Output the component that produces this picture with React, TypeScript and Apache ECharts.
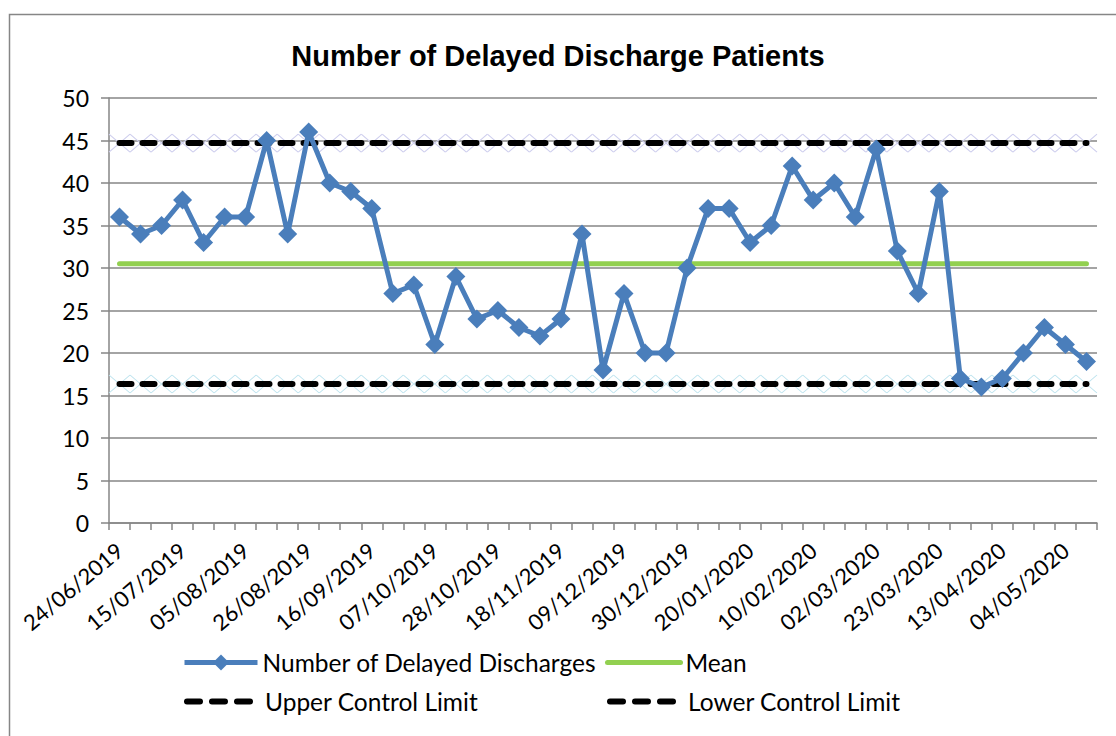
import React, { useEffect, useRef } from "react";
import * as echarts from "echarts";

const categories = [
  "24/06/2019", "01/07/2019", "08/07/2019", "15/07/2019", "22/07/2019", "29/07/2019",
  "05/08/2019", "12/08/2019", "19/08/2019", "26/08/2019", "02/09/2019", "09/09/2019",
  "16/09/2019", "23/09/2019", "30/09/2019", "07/10/2019", "14/10/2019", "21/10/2019",
  "28/10/2019", "04/11/2019", "11/11/2019", "18/11/2019", "25/11/2019", "02/12/2019",
  "09/12/2019", "16/12/2019", "23/12/2019", "30/12/2019", "06/01/2020", "13/01/2020",
  "20/01/2020", "27/01/2020", "03/02/2020", "10/02/2020", "17/02/2020", "24/02/2020",
  "02/03/2020", "09/03/2020", "16/03/2020", "23/03/2020", "30/03/2020", "06/04/2020",
  "13/04/2020", "20/04/2020", "27/04/2020", "04/05/2020", "11/05/2020",
];

const delayedDischarges = [
  36, 34, 35, 38, 33, 36, 36, 45, 34, 46, 40, 39, 37, 27, 28, 21, 29, 24, 25, 23, 22, 24,
  34, 18, 27, 20, 20, 30, 37, 37, 33, 35, 42, 38, 40, 36, 44, 32, 27, 39, 17, 16, 17, 20,
  23, 21, 19,
];

const meanValue = 30.5;
const upperLimitValue = 44.7;
const lowerLimitValue = 16.35;

const yTicks = { min: 0, max: 50, interval: 5 };

const meanSeries = categories.map(() => meanValue);
const uclSeries = categories.map(() => upperLimitValue);
const lclSeries = categories.map(() => lowerLimitValue);

const FONT = "Lato, 'Noto Sans', sans-serif";
const GRAY = "#868686";
const BLUE = "#4a7ebb";
const GREEN = "#92d050";

export default function App() {
  const ref = useRef<HTMLDivElement>(null);

  useEffect(() => {
    if (!ref.current) return;
    const chart = echarts.init(ref.current, null, { renderer: "svg" });
    const crossSymbol = "path://M0,0L21,18M21,0L0,18";
    const legendText = { fontFamily: FONT, fontSize: 24.5, color: "#000" };
    const dash = [12, 11];
    const legendDash = [13, 12];
    const legendBase = {
      padding: 0,
      itemWidth: 73,
      itemHeight: 20,
      textStyle: legendText,
    };
    chart.setOption({
      animation: false,
      backgroundColor: "#fff",
      title: {
        text: "Number of Delayed Discharge Patients",
        left: "center",
        top: 36,
        textStyle: {
          fontFamily: "'Liberation Sans', Arial, sans-serif",
          fontWeight: "bold",
          fontSize: 29,
          color: "#000",
        },
      },
      graphic: [
        {
          type: "rect",
          shape: { x: 9.5, y: 14.5, width: 1300, height: 900 },
          style: { fill: "none", stroke: GRAY, lineWidth: 1.5 },
          silent: true,
          z: -1,
        },
      ],
      legend: [
        {
          ...legendBase,
          data: ["Number of Delayed Discharges"],
          left: 182,
          top: 650,
          lineStyle: { width: 5 },
        },
        {
          ...legendBase,
          data: ["Mean"],
          left: 605,
          top: 650,
          itemStyle: { opacity: 0 },
          lineStyle: { width: 5, cap: "round" },
        },
        {
          ...legendBase,
          data: ["Upper Control Limit"],
          left: 184,
          top: 689,
          itemStyle: { opacity: 0 },
          lineStyle: { width: 6, type: legendDash, cap: "round" },
        },
        {
          ...legendBase,
          data: ["Lower Control Limit"],
          left: 607,
          top: 689,
          itemStyle: { opacity: 0 },
          lineStyle: { width: 6, type: legendDash, cap: "round" },
        },
      ],
      grid: { left: 109, right: 19, top: 98, bottom: 213, containLabel: false },
      xAxis: {
        type: "category",
        data: categories,
        boundaryGap: true,
        axisLine: { show: true, lineStyle: { color: GRAY, width: 1.5 } },
        axisTick: { show: true, interval: 0, length: 7, lineStyle: { color: GRAY, width: 1.5 } },
        axisLabel: {
          interval: 2,
          rotate: 40,
          margin: 24,
          fontFamily: FONT,
          fontSize: 22,
          color: "#000",
        },
        splitLine: { show: false },
      },
      yAxis: {
        type: "value",
        min: yTicks.min,
        max: yTicks.max,
        interval: yTicks.interval,
        axisLine: { show: true, lineStyle: { color: GRAY, width: 1.5 } },
        axisTick: { show: true, length: 8, lineStyle: { color: GRAY, width: 1.5 } },
        axisLabel: { fontFamily: FONT, fontSize: 23, color: "#000", margin: 20 },
        splitLine: { show: true, lineStyle: { color: GRAY, width: 1.5 } },
      },
      series: [
        {
          name: "UCL markers",
          type: "line",
          data: uclSeries,
          symbol: crossSymbol,
          symbolSize: [21, 18],
          showSymbol: true,
          showAllSymbol: true,
          lineStyle: { width: 0, opacity: 0 },
          itemStyle: { color: "rgba(0,0,0,0)", borderColor: "#cfcfee", borderWidth: 1 },
          silent: true,
          z: 1,
        },
        {
          name: "LCL markers",
          type: "line",
          data: lclSeries,
          symbol: crossSymbol,
          symbolSize: [21, 18],
          showSymbol: true,
          showAllSymbol: true,
          lineStyle: { width: 0, opacity: 0 },
          itemStyle: { color: "rgba(0,0,0,0)", borderColor: "#bde3ee", borderWidth: 1 },
          silent: true,
          z: 1,
        },
        {
          name: "Upper Control Limit",
          type: "line",
          data: uclSeries,
          symbol: "none",
          lineStyle: { color: "#000", width: 6, type: dash, cap: "round" },
          itemStyle: { color: "#000" },
          z: 2,
        },
        {
          name: "Lower Control Limit",
          type: "line",
          data: lclSeries,
          symbol: "none",
          lineStyle: { color: "#000", width: 6, type: dash, cap: "round" },
          itemStyle: { color: "#000" },
          z: 2,
        },
        {
          name: "Mean",
          type: "line",
          data: meanSeries,
          symbol: "none",
          lineStyle: { color: GREEN, width: 5, cap: "round" },
          itemStyle: { color: GREEN },
          z: 3,
        },
        {
          name: "Number of Delayed Discharges",
          type: "line",
          data: delayedDischarges,
          symbol: "diamond",
          symbolSize: 19,
          showSymbol: true,
          showAllSymbol: true,
          lineStyle: { color: BLUE, width: 5 },
          itemStyle: { color: BLUE },
          z: 4,
        },
      ],
    });
    return () => chart.dispose();
  }, []);

  return (
    <div
      ref={ref}
      style={{ position: "fixed", left: 0, top: 0, width: 1116, height: 736 }}
    />
  );
}
